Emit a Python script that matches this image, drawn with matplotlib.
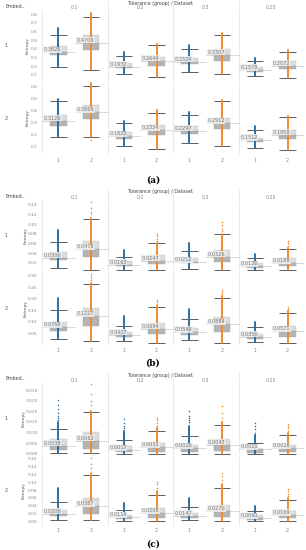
import matplotlib.pyplot as plt

W, H = 306, 550
fig = plt.figure(figsize=(W / 100, H / 100), dpi=100)

groups = ["0.1", "0.2", "0.3", "0.25"]
datasets = ["1", "2"]
colors = ["#2f6fa0", "#ef8a2f"]

# per panel: [row1 (8 boxes), row2 (8 boxes)], order g1-d1, g1-d2, g2-d1, ...
a_lo = [[0.195, 0.157, 0.108, 0.08, 0.14, 0.11, 0.09, 0.07],
        [0.178, 0.176, 0.10, 0.077, 0.125, 0.10, 0.083, 0.063]]
a_q1 = [[0.33, 0.385, 0.177, 0.207, 0.23, 0.265, 0.14, 0.165],
        [0.273, 0.327, 0.16, 0.19, 0.203, 0.243, 0.133, 0.16]]
a_med = [[0.3626, 0.4709, 0.1932, 0.2649, 0.2524, 0.3307, 0.1573, 0.2072],
         [0.3126, 0.3866, 0.1823, 0.2334, 0.2297, 0.2912, 0.1512, 0.1958]]
a_q3 = [[0.43, 0.56, 0.24, 0.31, 0.30, 0.395, 0.195, 0.26],
        [0.363, 0.447, 0.218, 0.28, 0.265, 0.34, 0.172, 0.237]]
a_hi = [[0.565, 0.77, 0.32, 0.45, 0.40, 0.56, 0.26, 0.37],
        [0.483, 0.61, 0.293, 0.38, 0.36, 0.483, 0.237, 0.345]]
a_top = [[0.635, 0.81, 0.36, 0.46, 0.45, 0.58, 0.29, 0.385],
         [0.50, 0.63, 0.315, 0.40, 0.383, 0.49, 0.265, 0.35]]
a_out = [[[], [], [], [], [], [], [], []],
         [[], [0.147], [], [], [], [], [], []]]

b_lo = [[0.010, 0.006, 0.006, 0.005, 0.007, 0.006, 0.005, 0.005],
        [0.024, 0.0136, 0.017, 0.008, 0.018, 0.008, 0.012, 0.005]]
b_q1 = [[0.0256, 0.0325, 0.0125, 0.0173, 0.019, 0.022, 0.009, 0.013],
        [0.06, 0.079, 0.035, 0.045, 0.042, 0.055, 0.025, 0.035]]
b_med = [[0.0306, 0.0478, 0.0163, 0.0247, 0.0212, 0.0326, 0.0130, 0.0188],
         [0.0764, 0.1227, 0.0427, 0.0694, 0.0548, 0.0884, 0.0350, 0.0571]]
b_q3 = [[0.043, 0.066, 0.0235, 0.036, 0.029, 0.046, 0.020, 0.029],
        [0.098, 0.159, 0.054, 0.095, 0.072, 0.12, 0.045, 0.08]]
b_hi = [[0.0625, 0.111, 0.031, 0.06, 0.044, 0.079, 0.029, 0.0486],
        [0.151, 0.263, 0.083, 0.165, 0.11, 0.205, 0.075, 0.14]]
b_top = [[0.087, 0.112, 0.046, 0.062, 0.06, 0.08, 0.038, 0.05],
         [0.205, 0.27, 0.125, 0.17, 0.155, 0.21, 0.10, 0.145]]
b_out = [[[], [0.146, 0.133, 0.125, 0.12], [], [0.08, 0.075, 0.07, 0.065], [],
          [0.104, 0.098, 0.09, 0.085], [], [0.065, 0.06, 0.055]],
         [[], [0.31, 0.30, 0.29, 0.28], [], [0.195, 0.185, 0.175], [],
          [0.24, 0.23, 0.22], [], [0.165, 0.155]]]

c_lo = [[0.0005, 0.0003, 0.0002, 0.0002, 0.0002, 0.0002, 0.0001, 0.0002],
        [0.004, 0.003, 0.002, 0.002, 0.003, 0.002, 0.001, 0.002]]
c_q1 = [[0.002, 0.0025, 0.0007, 0.001, 0.001, 0.0015, 0.0005, 0.001],
        [0.014, 0.02, 0.007, 0.01, 0.009, 0.013, 0.005, 0.008]]
c_med = [[0.0038, 0.0062, 0.0017, 0.0032, 0.0026, 0.0043, 0.0021, 0.0026],
         [0.0206, 0.0387, 0.0114, 0.0208, 0.0147, 0.0270, 0.0091, 0.0169]]
c_q3 = [[0.0068, 0.0105, 0.0035, 0.005, 0.004, 0.0068, 0.0025, 0.0042],
        [0.03, 0.06, 0.018, 0.035, 0.023, 0.043, 0.016, 0.028]]
c_hi = [[0.0115, 0.0198, 0.0065, 0.0108, 0.0085, 0.0138, 0.005, 0.0088],
        [0.05, 0.117, 0.03, 0.068, 0.037, 0.085, 0.026, 0.055]]
c_top = [[0.015, 0.02, 0.011, 0.012, 0.013, 0.015, 0.009, 0.010],
         [0.085, 0.12, 0.048, 0.078, 0.06, 0.095, 0.04, 0.06]]
c_out = [[[0.0255, 0.023, 0.021, 0.019, 0.018, 0.017, 0.016], [0.033, 0.028, 0.025, 0.023],
          [0.0165, 0.0145, 0.013, 0.012], [0.017, 0.016, 0.0145, 0.013],
          [0.020, 0.018, 0.017, 0.016, 0.015], [0.0225, 0.019, 0.017],
          [0.0145, 0.013, 0.0115, 0.010], [0.014, 0.013, 0.012, 0.011]],
         [[], [0.16, 0.145, 0.135, 0.125], [], [0.1, 0.095, 0.085], [],
          [0.122, 0.115, 0.105], [], [0.083, 0.078, 0.07, 0.065]]]

panels = [
    dict(tag="(a)", top=0, rows=[(10, 81), (82, 154)], tick_y=160, cap_y=180, lab_x=27.5,
         ylims=[(0.031, 0.847), (0.033, 0.64)],
         yticks=[[0.1, 0.2, 0.3, 0.4, 0.5, 0.6, 0.7, 0.8], [0.1, 0.2, 0.3, 0.4, 0.5, 0.6]],
         fmts=["{:.1f}", "{:.1f}"],
         data=(a_lo, a_q1, a_med, a_q3, a_hi, a_top, a_out)),
    dict(tag="(b)", top=189, rows=[(200, 271), (272, 345)], tick_y=350, cap_y=363, lab_x=26,
         ylims=[(0.003, 0.150), (-0.002, 0.317)],
         yticks=[[0.02, 0.04, 0.06, 0.08, 0.10, 0.12, 0.14], [0.05, 0.10, 0.15, 0.20, 0.25, 0.30]],
         fmts=["{:.2f}", "{:.2f}"],
         data=(b_lo, b_q1, b_med, b_q3, b_hi, b_top, b_out)),
    dict(tag="(c)", top=372, rows=[(383, 455), (456, 526)], tick_y=530, cap_y=544, lab_x=24,
         ylims=[(-0.0005, 0.0333), (-0.011, 0.166)],
         yticks=[[0.0, 0.005, 0.010, 0.015, 0.020, 0.025, 0.030],
                 [0.0, 0.02, 0.04, 0.06, 0.08, 0.10, 0.12, 0.14, 0.16]],
         fmts=["{:.3f}", "{:.2f}"],
         data=(c_lo, c_q1, c_med, c_q3, c_hi, c_top, c_out)),
]

X0, X1 = 42, 304
LINE = "#e4e4e4"
TXT = "#888888"


def px_axes(y0, y1):
    return fig.add_axes([X0 / W, 1 - y1 / H, (X1 - X0) / W, (y1 - y0) / H])


def draw_row(ax, r, data, ylim, yticks, fmt):
    lo, q1, med, q3, hi, top, outs = [d[r] for d in data]
    ax.set_xlim(0, 8)
    ax.set_ylim(*ylim)
    for s in ax.spines.values():
        s.set_visible(False)
    ax.set_xticks([])
    ax.set_yticks(yticks)
    ax.set_yticklabels([fmt.format(t) for t in yticks], fontsize=3.2, color=TXT)
    ax.tick_params(axis="y", length=0, pad=3)
    for g in (2, 4, 6):
        ax.axvline(g, color=LINE, lw=0.6, zorder=0)
    ax.axvline(0, color=LINE, lw=0.6, zorder=0)
    for i in range(8):
        x = i + 0.5
        c = colors[i % 2]
        ax.plot([i, i + 1], [med[i], med[i]], color="#d2d2d2", lw=0.6, zorder=1)
        ax.bar(x, q3[i] - med[i], bottom=med[i], width=0.5, color="#dcdcdc",
               edgecolor="#c4c4c4", lw=0.3, zorder=2)
        ax.bar(x, med[i] - q1[i], bottom=q1[i], width=0.5, color="#b4b4b4",
               edgecolor="#a8a8a8", lw=0.3, zorder=2)
        ax.hlines([lo[i], hi[i]], x - 0.25, x + 0.25, colors="#5a5a5a", lw=0.7, zorder=3)
        ax.plot([x, x], [lo[i], top[i]], color=c, lw=1.4, solid_capstyle="round", zorder=4)
        if outs[i]:
            ax.plot([x] * len(outs[i]), outs[i], "o", ms=1.1, color=c, mec="none", zorder=4)
        ax.text(i + 0.05, med[i], "{:.4f}".format(med[i]), fontsize=3.6, color="#777777",
                ha="left", va="bottom", zorder=5,
                bbox=dict(facecolor="#ececec", edgecolor="none", pad=0.4, alpha=0.9))


for p in panels:
    t = p["top"]
    # header
    fig.text(161 / W, 1 - (t + 3) / H, "Tolerance (group) / Dataset", fontsize=3.4,
             color="#444444", ha="center", va="center")
    fig.text(5 / W, 1 - (t + 7) / H, "Embed..", fontsize=3.4, color="#444444",
             ha="left", va="center")
    hdr = px_axes(t + 1, p["rows"][0][0])
    hdr.set_xlim(0, 8)
    hdr.axis("off")
    for g in (2, 4, 6):
        hdr.axvline(g, color=LINE, lw=0.6)
    for k, g in enumerate(groups):
        hdr.text(2 * k + 1, 0.25, g, fontsize=3.4, color=TXT, ha="center", va="center",
                 transform=hdr.get_xaxis_transform())
    for r, (y0, y1) in enumerate(p["rows"]):
        ax = px_axes(y0, y1)
        draw_row(ax, r, p["data"], p["ylims"][r], p["yticks"][r], p["fmts"][r])
        ax.axhline(ax.get_ylim()[0], color=LINE, lw=0.6, zorder=0)
        ymid = 1 - (y0 + y1) / 2 / H
        fig.text(p["lab_x"] / W, ymid, "Entropy", fontsize=3.2, color="#555555", rotation=90,
                 ha="center", va="center")
        fig.text(6 / W, ymid, datasets[r], fontsize=3.6, color="#555555",
                 ha="center", va="center")
        if r == 1:
            for i in range(8):
                fig.text((X0 + (i + 0.5) * (X1 - X0) / 8) / W, 1 - p["tick_y"] / H,
                         datasets[i % 2], fontsize=3.6, color=TXT, ha="center", va="center")
    fig.text(153 / W, 1 - p["cap_y"] / H, p["tag"], fontsize=6.5, fontweight="bold",
             family="DejaVu Serif", ha="center", va="center")

fig.savefig("out.png", dpi=100)
